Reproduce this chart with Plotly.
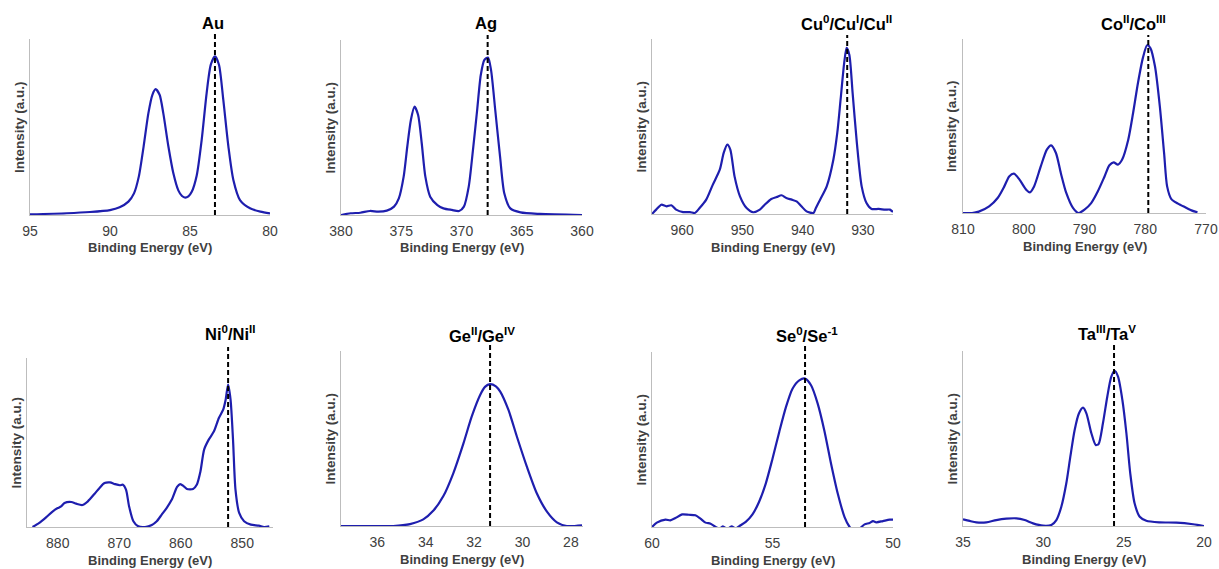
import plotly.graph_objects as go

W, H = 1219, 569

# ---------------- data (binding energy in eV, normalised intensity) ----------------
au_be = [95, 92.7, 91.25, 90, 89.4, 88.85, 88.5, 88.2, 87.9, 87.6, 87.35, 87.15, 86.9, 86.67,
         86.35, 86.04, 85.73, 85.5, 85.3, 85.1, 84.9, 84.58, 84.27, 83.96, 83.7, 83.44, 83.19,
         82.92, 82.6, 82.29, 81.875, 81.25, 80.6, 80]
au_int = [0.004, 0.01, 0.017, 0.028, 0.044, 0.076, 0.123, 0.218, 0.389, 0.579, 0.683, 0.715,
          0.683, 0.579, 0.389, 0.237, 0.14, 0.108, 0.099, 0.106, 0.13, 0.225, 0.427, 0.693,
          0.854, 0.901, 0.854, 0.655, 0.389, 0.199, 0.085, 0.038, 0.019, 0.009]

ag_be = [380, 379.2, 378.4, 377.6, 376.9, 376.2, 375.6, 375.2, 374.8, 374.5, 374.2, 373.9, 373.6,
         373.3, 373.0, 372.6, 372.0, 371.5, 370.8, 370.2, 369.8, 369.4, 369.05, 368.7, 368.4,
         368.1, 367.8, 367.55, 367.2, 366.8, 366.45, 365.95, 365.1, 363.5, 360]
ag_int = [0.0, 0.01, 0.013, 0.023, 0.019, 0.025, 0.048, 0.095, 0.219, 0.39, 0.543, 0.619, 0.571,
          0.41, 0.219, 0.105, 0.057, 0.038, 0.029, 0.023, 0.048, 0.162, 0.371, 0.6, 0.8, 0.886,
          0.9, 0.829, 0.6, 0.333, 0.124, 0.038, 0.015, 0.006, 0.0]

cu_be = [965, 964.3, 963.45, 962.6, 961.8, 961.0, 959.85, 958.7, 957.9, 957.1, 956.0, 954.9,
         953.75, 953.1, 952.5, 952.0, 951.3, 950.4, 949.3, 948.2, 947.1, 946.3, 945.2, 944.3,
         943.5, 942.7, 941.8, 941.0, 940.2, 939.35, 938.2, 937.8, 937.1, 936.0, 934.9, 934.25,
         933.7, 933.1, 932.7, 932.25, 931.7, 931.0, 930.2, 929.4, 928.55, 927.4, 926.3, 925.5, 925]
cu_int = [0.0, 0.025, 0.053, 0.044, 0.05, 0.025, 0.011, 0.011, 0.006, 0.034, 0.082, 0.168,
          0.253, 0.349, 0.396, 0.368, 0.215, 0.101, 0.034, 0.01, 0.025, 0.053, 0.086, 0.097,
          0.107, 0.091, 0.082, 0.072, 0.044, 0.015, 0.006, 0.034, 0.082, 0.158, 0.31, 0.463,
          0.653, 0.863, 0.949, 0.91, 0.691, 0.406, 0.158, 0.063, 0.029, 0.029, 0.025, 0.025, 0.011]

co_be = [810, 808.5, 807.4, 805.7, 804.3, 803.2, 802.4, 801.6, 800.7, 799.6, 799.0, 798.3, 797.2,
         796.2, 795.5, 794.7, 793.9, 793.0, 791.9, 791.0, 790.0, 788.9, 787.8, 786.7, 785.9,
         785.2, 784.5, 783.8, 782.8, 782.0, 781.2, 780.4, 779.7, 779.15, 778.4, 777.6, 776.9,
         776.4, 775.7, 774.6, 773.5, 772.4, 771.4]
co_int = [0.0, 0.0, 0.008, 0.038, 0.086, 0.153, 0.21, 0.226, 0.192, 0.134, 0.119, 0.153, 0.268,
          0.364, 0.389, 0.345, 0.23, 0.115, 0.029, 0.0, 0.019, 0.057, 0.125, 0.21, 0.274, 0.291,
          0.278, 0.307, 0.421, 0.575, 0.747, 0.89, 0.964, 0.948, 0.843, 0.613, 0.345, 0.153,
          0.08, 0.054, 0.034, 0.015, 0.004]

ni_be = [884.1, 883.0, 881.9, 880.8, 880.0, 879.45, 878.9, 877.8, 877.0, 876.0, 875.1, 874.0,
         873.2, 872.4, 871.5, 870.7, 869.9, 869.4, 868.9, 868.4, 867.7, 866.9, 865.8, 864.7,
         863.9, 863.1, 862.3, 861.45, 860.6, 860.1, 859.5, 859.0, 858.0, 857.4, 856.8, 856.2,
         855.45, 854.6, 853.8, 853.1, 852.7, 852.3, 851.9, 851.5, 851.1, 850.5, 849.7, 848.6,
         847.3, 846.45, 845.6]
ni_int = [0.0, 0.024, 0.057, 0.093, 0.112, 0.122, 0.142, 0.148, 0.138, 0.13, 0.152, 0.197, 0.231,
          0.26, 0.264, 0.254, 0.247, 0.25, 0.221, 0.122, 0.034, 0.004, 0.0, 0.012, 0.034, 0.073,
          0.112, 0.162, 0.237, 0.254, 0.241, 0.225, 0.225, 0.25, 0.329, 0.458, 0.517, 0.566,
          0.645, 0.694, 0.753, 0.842, 0.753, 0.517, 0.221, 0.083, 0.034, 0.014, 0.008, 0.0, 0.004]

ge_be = [37.5, 36.44, 35.34, 34.65, 34.1, 33.68, 33.27, 32.86, 32.44, 32.1, 31.75, 31.55, 31.34,
         31.1, 30.92, 30.58, 30.23, 29.82, 29.41, 28.99, 28.58, 28.17, 27.54]
ge_int = [0.0, 0.0, 0.0, 0.011, 0.038, 0.088, 0.171, 0.301, 0.472, 0.625, 0.749, 0.795, 0.811,
          0.798, 0.768, 0.663, 0.51, 0.339, 0.187, 0.082, 0.021, 0.0, 0.004]

se_be = [60, 59.8, 59.44, 59.24, 59.03, 58.75, 58.47, 58.2, 57.99, 57.78, 57.57, 57.36, 57.2,
         57.06, 56.875, 56.7, 56.53, 56.32, 56.11, 55.83, 55.56, 55.28, 55.0, 54.72, 54.44,
         54.17, 53.89, 53.65, 53.4, 53.125, 52.85, 52.57, 52.29, 52.01, 51.8, 51.6, 51.39,
         51.18, 50.97, 50.83, 50.69, 50.42, 50.14, 50.0]
se_int = [0.0, 0.025, 0.042, 0.038, 0.051, 0.072, 0.07, 0.067, 0.048, 0.025, 0.019, 0.0, -0.01,
          0.004, -0.011, 0.004, -0.008, 0.01, 0.029, 0.072, 0.143, 0.248, 0.39, 0.543, 0.686,
          0.79, 0.838, 0.848, 0.81, 0.705, 0.552, 0.362, 0.19, 0.057, 0.0, -0.029, -0.01, 0.015,
          0.023, 0.034, 0.027, 0.034, 0.042, 0.042]

ta_be = [35, 34.59, 34.17, 33.55, 32.93, 32.3, 31.68, 31.16, 30.64, 30.02, 29.5, 29.19, 28.88,
         28.57, 28.32, 28.05, 27.78, 27.53, 27.32, 27.01, 26.74, 26.56, 26.29, 26.02, 25.77,
         25.56, 25.35, 25.08, 24.83, 24.59, 24.32, 24.0, 23.59, 22.76, 21.72, 20.68, 20]
ta_int = [0.038, 0.029, 0.021, 0.021, 0.034, 0.042, 0.044, 0.034, 0.015, 0.002, 0.006, 0.034,
          0.11, 0.244, 0.396, 0.549, 0.644, 0.676, 0.644, 0.53, 0.463, 0.469, 0.587, 0.739,
          0.853, 0.886, 0.853, 0.72, 0.53, 0.301, 0.13, 0.053, 0.03, 0.021, 0.019, 0.01, 0.0]

titles = ["Au", "Ag", "Cu<sup>0</sup>/Cu<sup>I</sup>/Cu<sup>II</sup>", "Co<sup>II</sup>/Co<sup>III</sup>",
          "Ni<sup>0</sup>/Ni<sup>II</sup>", "Ge<sup>II</sup>/Ge<sup>IV</sup>",
          "Se<sup>0</sup>/Se<sup>-1</sup>", "Ta<sup>III</sup>/Ta<sup>V</sup>"]
ref_lines = [83.44, 367.83, 932.6, 779.5, 852.3, 31.34, 53.65, 25.6]
title_be = [83.54, 368.0, 932.7, 781.9, 852.0, 31.68, 53.58, 26.04]
x_ranges = [(95, 80), (380, 360), (965, 925), (810, 770), (885, 845), (37.5, 27.5), (60, 50), (35, 20)]
tick_vals = [[95, 90, 85, 80], [380, 375, 370, 365, 360], [960, 950, 940, 930],
             [810, 800, 790, 780, 770], [880, 870, 860, 850], [36, 34, 32, 30, 28],
             [60, 55, 50], [35, 30, 25, 20]]
x_title = "Binding Energy (eV)"
y_title = "Intensity (a.u.)"

series = [(au_be, au_int), (ag_be, ag_int), (cu_be, cu_int), (co_be, co_int),
          (ni_be, ni_int), (ge_be, ge_int), (se_be, se_int), (ta_be, ta_int)]

# ---------------- layout geometry (pixels) ----------------
# (left, right, top, bottom) of each axes box
boxes = [(30, 270, 39, 215), (341, 582, 40, 215), (652, 893, 39, 214), (963, 1206, 39, 213),
         (27, 273, 358, 527), (341, 583, 351, 526), (652, 893, 352, 527), (963, 1204, 351, 526)]
title_py = [23, 23, 23, 23, 333, 335, 335, 333]
dash_top_py = [34, 35, 35, 35, 347, 345, 345, 345]

FONT = "Liberation Sans, Arial, sans-serif"
LINE_COLOR = "#1e1eae"
AXIS_COLOR = "#bdbdbd"
TEXT_GRAY = "#404040"

fig = go.Figure()
layout = dict(width=W, height=H, margin=dict(l=0, r=0, t=0, b=0, autoexpand=False),
              plot_bgcolor="white", paper_bgcolor="white", showlegend=False,
              font=dict(family=FONT, color=TEXT_GRAY))
shapes, annotations = [], []

for i, ((be, inten), box) in enumerate(zip(series, boxes)):
    n = i + 1
    xa = "x" if n == 1 else f"x{n}"
    ya = "y" if n == 1 else f"y{n}"
    left, right, top, bottom = box
    fig.add_trace(go.Scatter(x=be, y=inten, mode="lines", xaxis=xa, yaxis=ya,
                             line=dict(color=LINE_COLOR, width=2.2, shape="spline", smoothing=0.7),
                             hoverinfo="skip"))
    layout["xaxis" if n == 1 else f"xaxis{n}"] = dict(
        domain=[left / W, right / W], anchor=ya, range=list(x_ranges[i]), automargin=False,
        tickmode="array", tickvals=tick_vals[i], ticks="", showgrid=False, zeroline=False,
        showline=True, linecolor=AXIS_COLOR, linewidth=1, ticklabelstandoff=3,
        tickfont=dict(family=FONT, size=14, color=TEXT_GRAY))
    layout["yaxis" if n == 1 else f"yaxis{n}"] = dict(
        domain=[1 - bottom / H, 1 - top / H], anchor=xa, range=[0, 1], automargin=False,
        showticklabels=False, ticks="", showgrid=False, zeroline=False,
        showline=True, linecolor=AXIS_COLOR, linewidth=1)
    # reference dashed line
    shapes.append(dict(type="line", xref=xa, yref="paper", x0=ref_lines[i], x1=ref_lines[i],
                       y0=1 - bottom / H, y1=1 - dash_top_py[i] / H,
                       line=dict(color="black", width=2, dash="5px,3px"), layer="above"))
    # panel title
    annotations.append(dict(text=f"<b>{titles[i]}</b>", xref=xa, yref="paper", x=title_be[i],
                            y=1 - title_py[i] / H, xanchor="center", yanchor="middle",
                            showarrow=False, font=dict(family=FONT, size=16.5, color="black")))
    # x axis title
    annotations.append(dict(text=f"<b>{x_title}</b>", xref="paper", yref="paper",
                            x=(left + right) / 2 / W, y=1 - (bottom + 33) / H,
                            xanchor="center", yanchor="middle", showarrow=False,
                            font=dict(family=FONT, size=13, color=TEXT_GRAY)))
    # y axis title
    annotations.append(dict(text=f"<b>{y_title}</b>", xref="paper", yref="paper",
                            x=(left - 11) / W, y=1 - (top + bottom) / 2 / H, textangle=-90,
                            xanchor="center", yanchor="middle", showarrow=False,
                            font=dict(family=FONT, size=13.5, color=TEXT_GRAY)))

layout["shapes"] = shapes
layout["annotations"] = annotations
fig.update_layout(**layout)
fig.write_html("out.html", config={"displayModeBar": False},
               post_script="document.body.style.margin='0px';document.body.style.overflow='hidden';")
